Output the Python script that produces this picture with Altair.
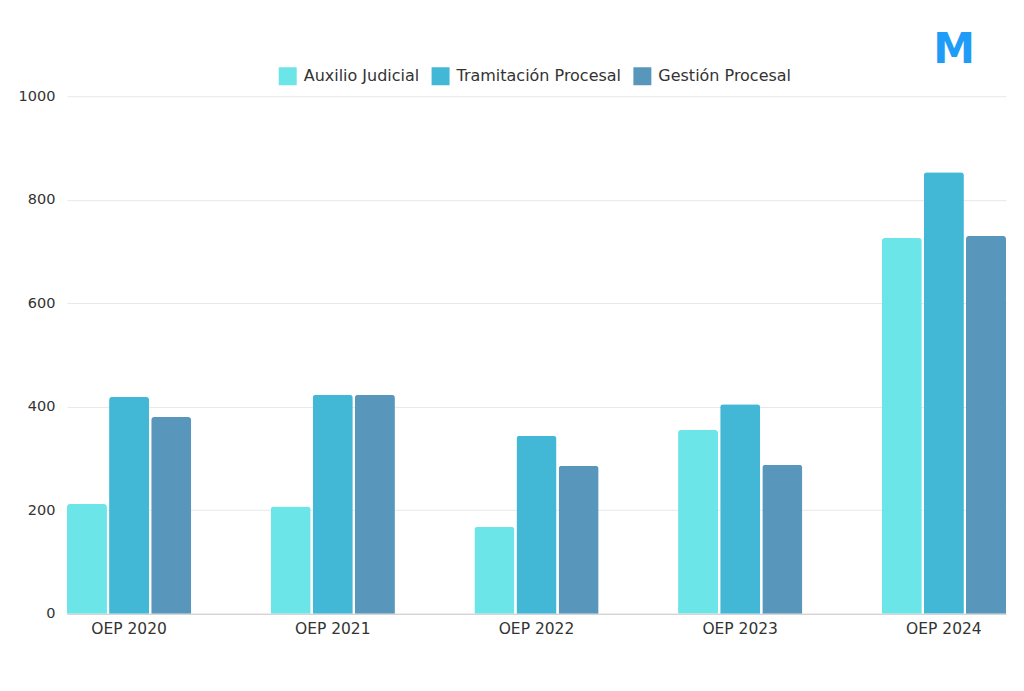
import altair as alt
import pandas as pd

years = ["OEP 2020", "OEP 2021", "OEP 2022", "OEP 2023", "OEP 2024"]
series = ["Auxilio Judicial", "Tramitación Procesal", "Gestión Procesal"]
auxilio = [212, 207, 168, 355, 726]
tramitacion = [419, 423, 344, 405, 853]
gestion = [380, 423, 286, 288, 730]
colors = ["#6BE5E8", "#42B8D6", "#5896BC"]
y_ticks = [0, 200, 400, 600, 800, 1000]

rows = []
for i, yr in enumerate(years):
    for s, vals in zip(series, [auxilio, tramitacion, gestion]):
        rows.append({"year": yr, "series": s, "value": vals[i]})
df = pd.DataFrame(rows)

FONT = "DejaVu Sans"

bars = alt.Chart(df).mark_bar(
    cornerRadiusTopLeft=3, cornerRadiusTopRight=3
).encode(
    x=alt.X("year:N", sort=years, title=None,
            scale=alt.Scale(paddingInner=0.39, paddingOuter=0),
            axis=alt.Axis(labelAngle=0, tickSize=0, labelPadding=8,
                          domainColor="#cccccc", labelFontSize=15.5,
                          labelColor="#333333", labelFont=FONT, grid=False)),
    xOffset=alt.XOffset("series:N", sort=series,
                        scale=alt.Scale(paddingInner=0.05, paddingOuter=0)),
    y=alt.Y("value:Q", title=None,
            scale=alt.Scale(domain=[0, 1000], nice=False),
            axis=alt.Axis(values=y_ticks, format="d", tickSize=0,
                          labelPadding=12, domain=False,
                          gridColor="#e8e8e8", labelFontSize=14.5,
                          labelColor="#333333", labelFont=FONT)),
    color=alt.Color("series:N", sort=series, title=None,
                    scale=alt.Scale(domain=series, range=colors),
                    legend=alt.Legend(orient="none", legendX=212, legendY=-29,
                                      direction="horizontal",
                                      symbolType="square", symbolSize=324,
                                      symbolStrokeWidth=0, labelFontSize=16,
                                      labelLimit=400,
                                      labelColor="#333333", labelFont=FONT,
                                      labelOffset=7, columnPadding=12)),
)

logo_df = pd.DataFrame({"t": ["M"]})
logo = alt.Chart(logo_df).mark_text(
    fontSize=42, fontWeight="bold", font="DejaVu Sans", color="#1E9CF7",
    align="center", baseline="middle"
).encode(x=alt.value(888), y=alt.value(-46), text="t:N")

chart = alt.layer(bars, logo).properties(
    width=940, height=518,
    background="white",
    autosize=alt.AutoSizeParams(type="none"),
    padding={"left": 59, "top": 88, "right": 10, "bottom": 50},
).configure_view(strokeWidth=0, stroke="transparent")

chart.save("out.html", embed_options={"renderer": "svg", "actions": False})
